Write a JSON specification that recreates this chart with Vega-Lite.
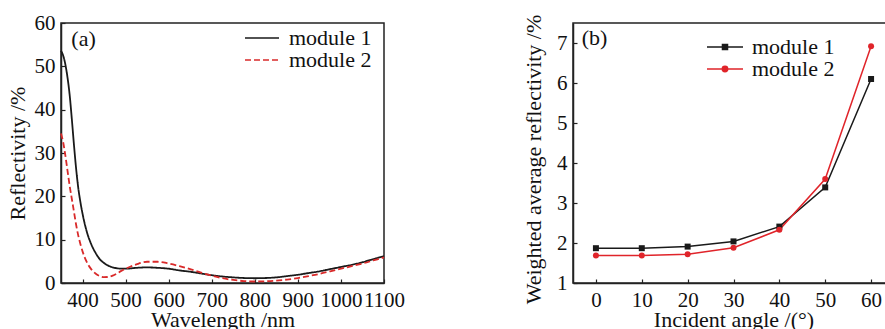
{
  "$schema": "https://vega.github.io/schema/vega-lite/v6.json",
  "background": "white",
  "padding": {"left": 5, "top": 11, "right": 0, "bottom": 0},
  "spacing": 189,
  "bounds": "flush",
  "resolve": {"scale": {"color": "independent", "strokeDash": "independent"}},
  "datasets": {
    "spectra": [
      {"wl": 350, "R": 53.6, "module": "module 1"},
      {"wl": 355, "R": 52.5, "module": "module 1"},
      {"wl": 360, "R": 50.5, "module": "module 1"},
      {"wl": 365, "R": 47.5, "module": "module 1"},
      {"wl": 370, "R": 43.5, "module": "module 1"},
      {"wl": 375, "R": 38.0, "module": "module 1"},
      {"wl": 380, "R": 32.0, "module": "module 1"},
      {"wl": 385, "R": 26.5, "module": "module 1"},
      {"wl": 390, "R": 22.0, "module": "module 1"},
      {"wl": 395, "R": 18.7, "module": "module 1"},
      {"wl": 400, "R": 16.0, "module": "module 1"},
      {"wl": 410, "R": 11.8, "module": "module 1"},
      {"wl": 420, "R": 9.0, "module": "module 1"},
      {"wl": 430, "R": 7.0, "module": "module 1"},
      {"wl": 440, "R": 5.5, "module": "module 1"},
      {"wl": 450, "R": 4.6, "module": "module 1"},
      {"wl": 460, "R": 4.0, "module": "module 1"},
      {"wl": 470, "R": 3.6, "module": "module 1"},
      {"wl": 480, "R": 3.4, "module": "module 1"},
      {"wl": 490, "R": 3.3, "module": "module 1"},
      {"wl": 500, "R": 3.3, "module": "module 1"},
      {"wl": 525, "R": 3.5, "module": "module 1"},
      {"wl": 550, "R": 3.6, "module": "module 1"},
      {"wl": 575, "R": 3.5, "module": "module 1"},
      {"wl": 600, "R": 3.3, "module": "module 1"},
      {"wl": 625, "R": 2.9, "module": "module 1"},
      {"wl": 650, "R": 2.6, "module": "module 1"},
      {"wl": 675, "R": 2.2, "module": "module 1"},
      {"wl": 700, "R": 1.8, "module": "module 1"},
      {"wl": 725, "R": 1.5, "module": "module 1"},
      {"wl": 750, "R": 1.3, "module": "module 1"},
      {"wl": 775, "R": 1.15, "module": "module 1"},
      {"wl": 800, "R": 1.1, "module": "module 1"},
      {"wl": 825, "R": 1.15, "module": "module 1"},
      {"wl": 850, "R": 1.3, "module": "module 1"},
      {"wl": 875, "R": 1.6, "module": "module 1"},
      {"wl": 900, "R": 1.9, "module": "module 1"},
      {"wl": 925, "R": 2.3, "module": "module 1"},
      {"wl": 950, "R": 2.7, "module": "module 1"},
      {"wl": 975, "R": 3.2, "module": "module 1"},
      {"wl": 1000, "R": 3.7, "module": "module 1"},
      {"wl": 1025, "R": 4.2, "module": "module 1"},
      {"wl": 1050, "R": 4.8, "module": "module 1"},
      {"wl": 1075, "R": 5.5, "module": "module 1"},
      {"wl": 1100, "R": 6.2, "module": "module 1"},
      {"wl": 350, "R": 34.5, "module": "module 2"},
      {"wl": 355, "R": 32.5, "module": "module 2"},
      {"wl": 360, "R": 29.5, "module": "module 2"},
      {"wl": 365, "R": 26.0, "module": "module 2"},
      {"wl": 370, "R": 22.5, "module": "module 2"},
      {"wl": 375, "R": 19.5, "module": "module 2"},
      {"wl": 380, "R": 16.5, "module": "module 2"},
      {"wl": 385, "R": 13.5, "module": "module 2"},
      {"wl": 390, "R": 11.0, "module": "module 2"},
      {"wl": 395, "R": 9.0, "module": "module 2"},
      {"wl": 400, "R": 7.3, "module": "module 2"},
      {"wl": 410, "R": 4.8, "module": "module 2"},
      {"wl": 420, "R": 3.2, "module": "module 2"},
      {"wl": 430, "R": 2.2, "module": "module 2"},
      {"wl": 440, "R": 1.6, "module": "module 2"},
      {"wl": 450, "R": 1.35, "module": "module 2"},
      {"wl": 460, "R": 1.4, "module": "module 2"},
      {"wl": 470, "R": 1.7, "module": "module 2"},
      {"wl": 480, "R": 2.2, "module": "module 2"},
      {"wl": 490, "R": 2.8, "module": "module 2"},
      {"wl": 500, "R": 3.3, "module": "module 2"},
      {"wl": 525, "R": 4.3, "module": "module 2"},
      {"wl": 550, "R": 4.9, "module": "module 2"},
      {"wl": 575, "R": 4.9, "module": "module 2"},
      {"wl": 600, "R": 4.5, "module": "module 2"},
      {"wl": 625, "R": 3.9, "module": "module 2"},
      {"wl": 650, "R": 3.2, "module": "module 2"},
      {"wl": 675, "R": 2.4, "module": "module 2"},
      {"wl": 700, "R": 1.7, "module": "module 2"},
      {"wl": 725, "R": 1.1, "module": "module 2"},
      {"wl": 750, "R": 0.7, "module": "module 2"},
      {"wl": 775, "R": 0.45, "module": "module 2"},
      {"wl": 800, "R": 0.35, "module": "module 2"},
      {"wl": 825, "R": 0.4, "module": "module 2"},
      {"wl": 850, "R": 0.55, "module": "module 2"},
      {"wl": 875, "R": 0.8, "module": "module 2"},
      {"wl": 900, "R": 1.15, "module": "module 2"},
      {"wl": 925, "R": 1.6, "module": "module 2"},
      {"wl": 950, "R": 2.1, "module": "module 2"},
      {"wl": 975, "R": 2.7, "module": "module 2"},
      {"wl": 1000, "R": 3.3, "module": "module 2"},
      {"wl": 1025, "R": 3.9, "module": "module 2"},
      {"wl": 1050, "R": 4.5, "module": "module 2"},
      {"wl": 1075, "R": 5.2, "module": "module 2"},
      {"wl": 1100, "R": 5.9, "module": "module 2"}
    ],
    "angles": [
      {"angle": 0, "W": 1.87, "module": "module 1"},
      {"angle": 10, "W": 1.87, "module": "module 1"},
      {"angle": 20, "W": 1.91, "module": "module 1"},
      {"angle": 30, "W": 2.04, "module": "module 1"},
      {"angle": 40, "W": 2.41, "module": "module 1"},
      {"angle": 50, "W": 3.39, "module": "module 1"},
      {"angle": 60, "W": 6.1, "module": "module 1"},
      {"angle": 0, "W": 1.69, "module": "module 2"},
      {"angle": 10, "W": 1.69, "module": "module 2"},
      {"angle": 20, "W": 1.72, "module": "module 2"},
      {"angle": 30, "W": 1.88, "module": "module 2"},
      {"angle": 40, "W": 2.33, "module": "module 2"},
      {"angle": 50, "W": 3.6, "module": "module 2"},
      {"angle": 60, "W": 6.92, "module": "module 2"}
    ]
  },
  "hconcat": [
    {
      "width": 323,
      "height": 260,
      "layer": [
        {
          "data": {"name": "spectra"},
          "mark": {"type": "line", "strokeWidth": 1.8, "interpolate": "monotone"},
          "encoding": {
            "x": {"field": "wl", "type": "quantitative",
              "scale": {"domain": [350, 1100], "nice": false, "zero": false},
              "axis": {"title": "Wavelength /nm", "format": "d", "titlePadding": -1, "values": [400, 500, 600, 700, 800, 900, 1000, 1100]}},
            "y": {"field": "R", "type": "quantitative",
              "scale": {"domain": [0, 60], "nice": false},
              "axis": {"title": "Reflectivity /%", "titlePadding": 5, "values": [0, 10, 20, 30, 40, 50, 60]}},
            "color": {"field": "module", "type": "nominal",
              "scale": {"domain": ["module 1", "module 2"], "range": ["#1a1a1a", "#d92a2a"]},
              "legend": {"orient": "none", "legendX": 190, "legendY": 4, "padding": 0, "title": null,
                "symbolType": "M-2,0H2", "symbolSize": 289, "symbolStrokeWidth": 1.5,
                "labelFont": "Liberation Serif", "labelFontSize": 22, "labelColor": "#111",
                "labelOffset": 16, "rowPadding": -3}},
            "strokeDash": {"field": "module", "type": "nominal",
              "scale": {"domain": ["module 1", "module 2"], "range": [[1, 0], [6, 3]]}}
          }
        },
        {
          "data": {"values": [{"x": 374, "y": 56.4, "label": "(a)"}]},
          "mark": {"type": "text", "align": "left", "baseline": "middle", "font": "Liberation Serif", "fontSize": 22, "color": "#111"},
          "encoding": {
            "x": {"field": "x", "type": "quantitative"},
            "y": {"field": "y", "type": "quantitative"},
            "text": {"field": "label"}
          }
        }
      ]
    },
    {
      "width": 321,
      "height": 260,
      "layer": [
        {
          "data": {"name": "angles"},
          "mark": {"type": "line", "strokeWidth": 1.5},
          "encoding": {
            "x": {"field": "angle", "type": "quantitative",
              "scale": {"domain": [-5, 65], "nice": false, "zero": false},
              "axis": {"title": "Incident angle /(°)", "titlePadding": -1, "values": [0, 10, 20, 30, 40, 50, 60]}},
            "y": {"field": "W", "type": "quantitative",
              "scale": {"domain": [1, 7.5], "nice": false, "zero": false},
              "axis": {"title": "Weighted average reflectivity /%", "titlePadding": 11, "titleY": 136, "values": [1, 2, 3, 4, 5, 6, 7]}},
            "color": {"field": "module", "type": "nominal",
              "scale": {"domain": ["module 1", "module 2"], "range": ["#1a1a1a", "#e0242a"]},
              "legend": {"orient": "none", "legendX": 141, "legendY": 13, "padding": 0, "title": null,
                "symbolSize": 324, "symbolStrokeWidth": 1.5,
                "labelFont": "Liberation Serif", "labelFontSize": 22, "labelColor": "#111",
                "labelOffset": 16, "rowPadding": -1,
                "encode": {"symbols": {"update": {
                  "shape": {"signal": "datum.value === 'module 1' ? 'M-2,0H2M-0.28,-0.28H0.28V0.28H-0.28Z' : 'M-2,0H2M0.3,0A0.3,0.3,0,1,1,-0.3,0A0.3,0.3,0,1,1,0.3,0Z'"},
                  "fill": {"signal": "datum.value === 'module 1' ? '#1a1a1a' : '#e0242a'"},
                  "fillOpacity": {"value": 1}
                }}}}}
          }
        },
        {
          "data": {"name": "angles"},
          "transform": [{"filter": "datum.module === 'module 1'"}],
          "mark": {"type": "point", "filled": true, "opacity": 1, "size": 36, "shape": "square", "color": "#1a1a1a"},
          "encoding": {
            "x": {"field": "angle", "type": "quantitative"},
            "y": {"field": "W", "type": "quantitative"}
          }
        },
        {
          "data": {"name": "angles"},
          "transform": [{"filter": "datum.module === 'module 2'"}],
          "mark": {"type": "point", "filled": true, "opacity": 1, "size": 36, "shape": "circle", "color": "#e0242a"},
          "encoding": {
            "x": {"field": "angle", "type": "quantitative"},
            "y": {"field": "W", "type": "quantitative"}
          }
        },
        {
          "data": {"values": [{"x": -3.1, "y": 7.13, "label": "(b)"}]},
          "mark": {"type": "text", "align": "left", "baseline": "middle", "font": "Liberation Serif", "fontSize": 22, "color": "#111"},
          "encoding": {
            "x": {"field": "x", "type": "quantitative"},
            "y": {"field": "y", "type": "quantitative"},
            "text": {"field": "label"}
          }
        }
      ]
    }
  ],
  "config": {
    "view": {"stroke": "#222", "strokeWidth": 1.5},
    "axis": {
      "grid": false,
      "domainColor": "#222", "domainWidth": 1.5,
      "tickColor": "#222", "tickWidth": 1.2, "tickSize": -4,
      "labelFont": "Liberation Serif", "labelFontSize": 21, "labelColor": "#111",
      "labelPadding": 10, "labelFlush": false, "labelOverlap": false,
      "titleFont": "Liberation Serif", "titleFontSize": 22, "titleFontWeight": "normal", "titleColor": "#111"
    }
  }
}
